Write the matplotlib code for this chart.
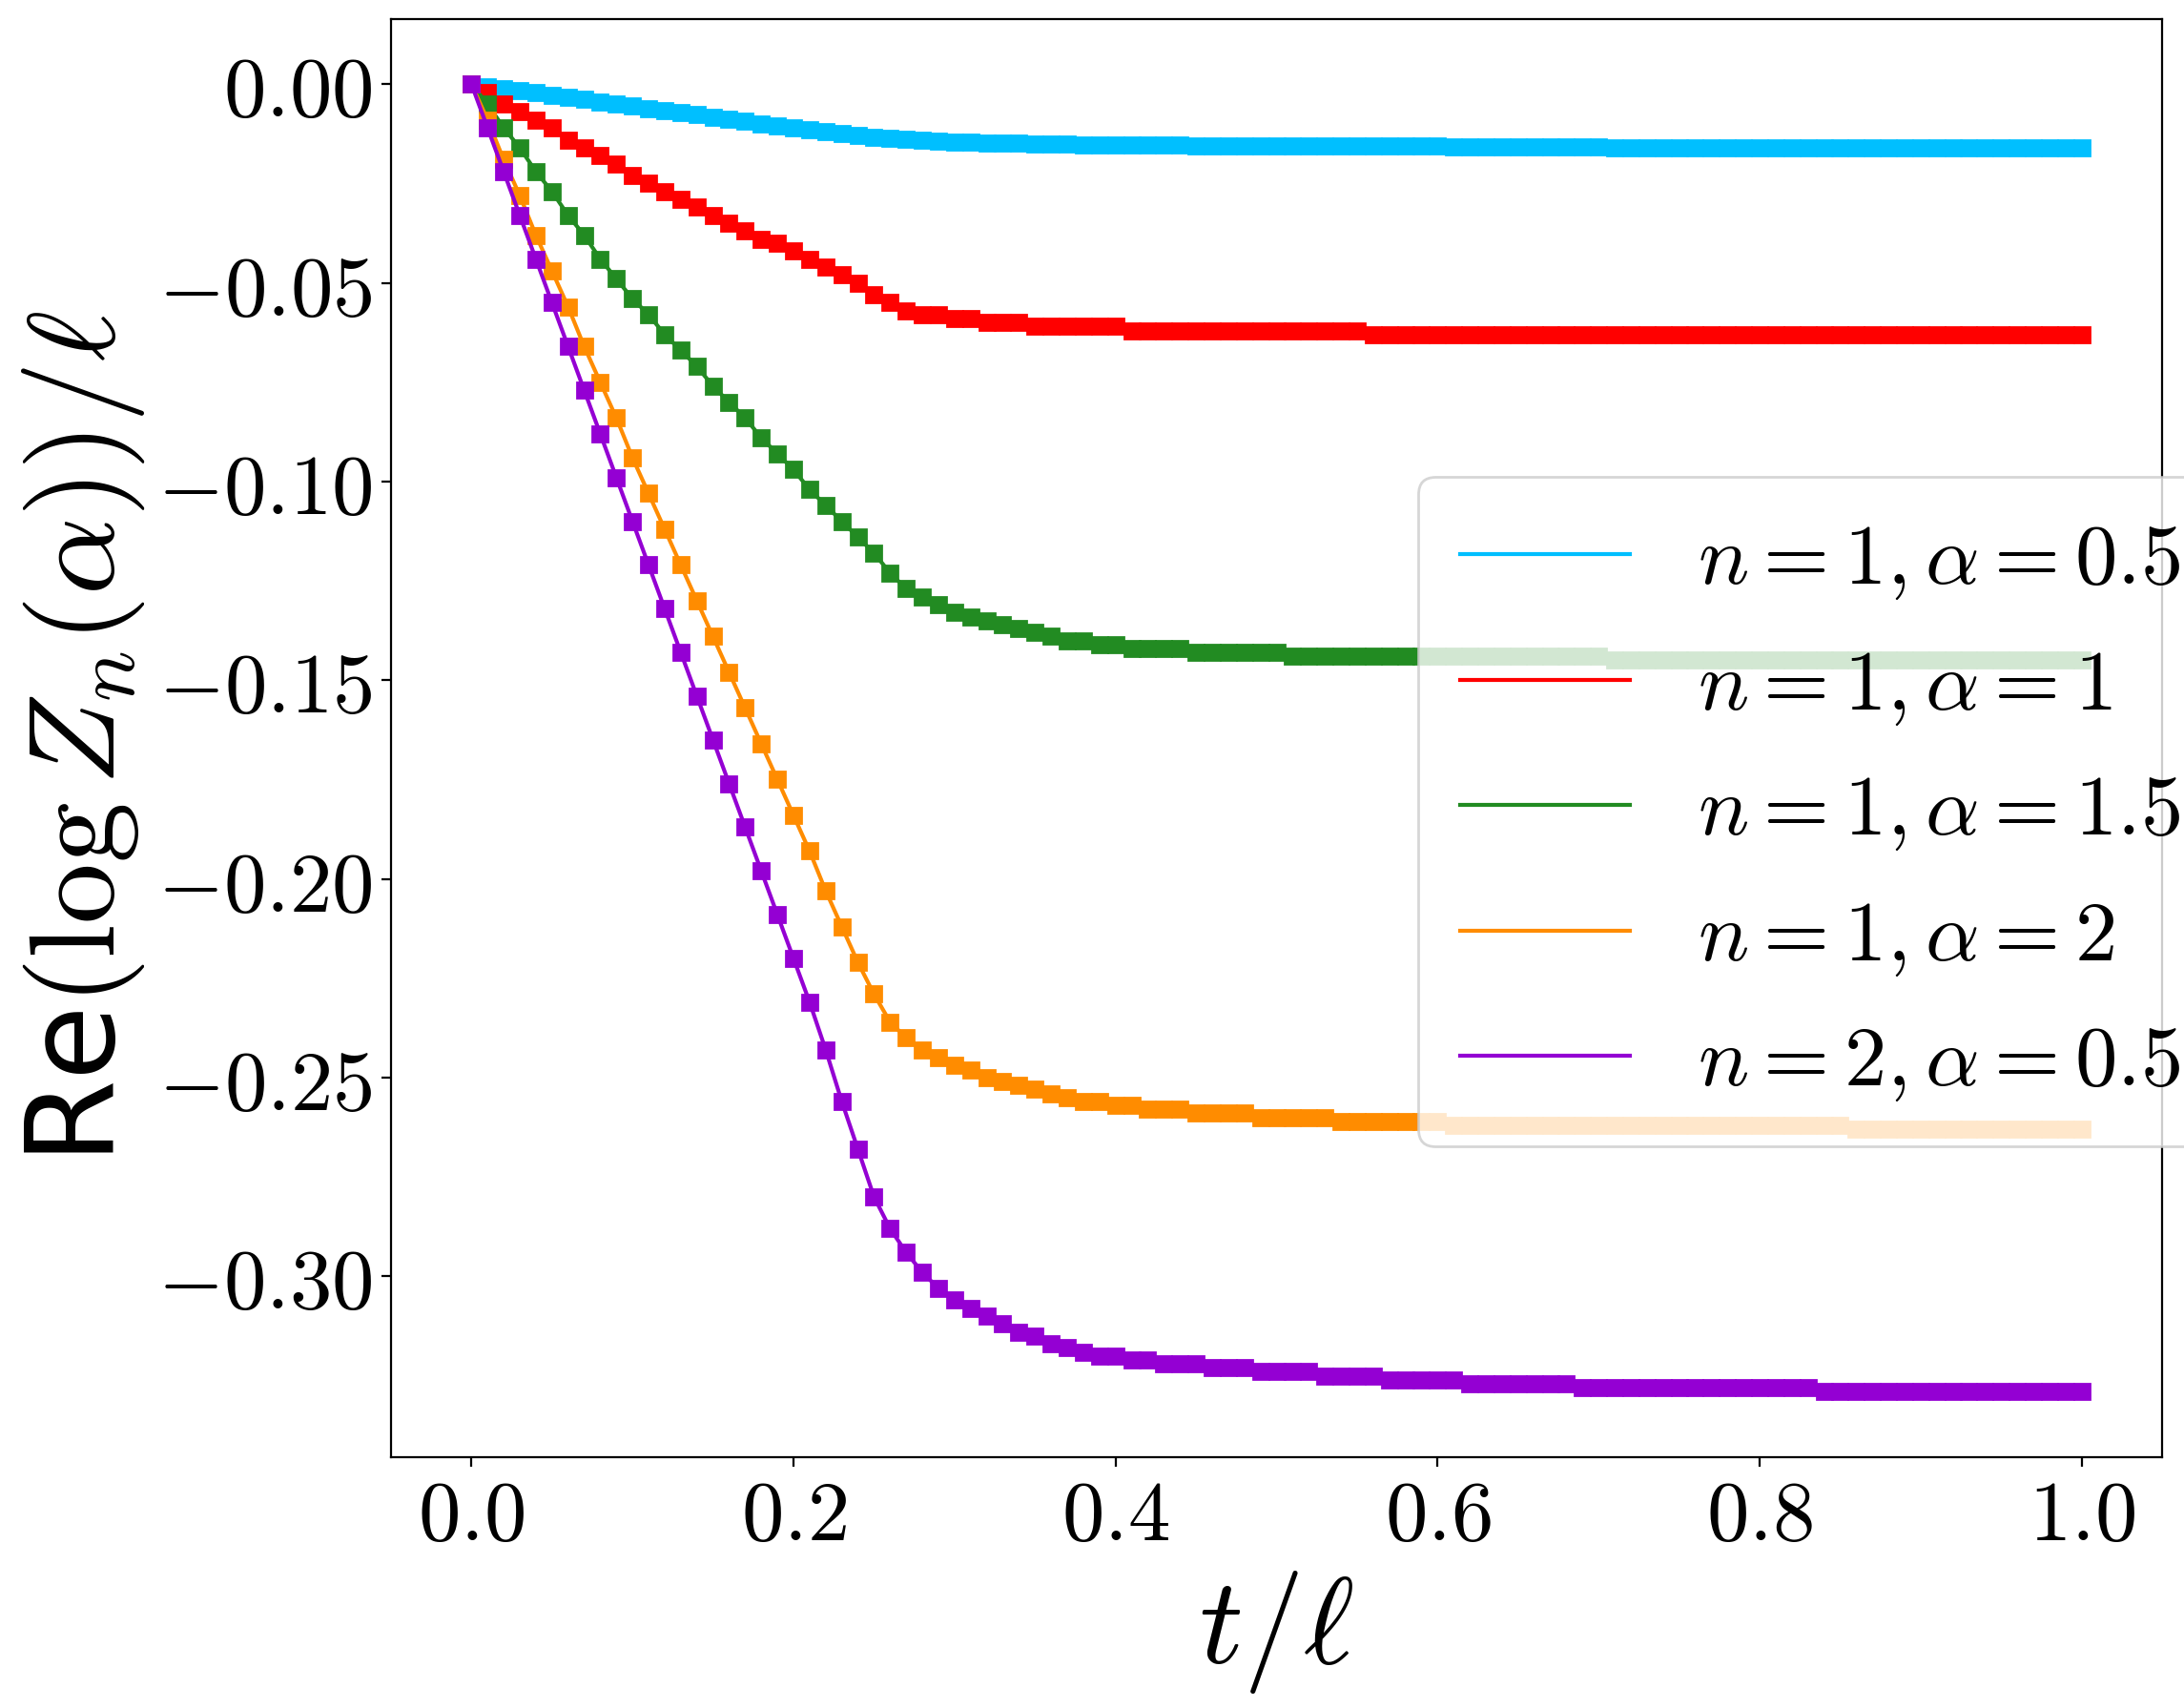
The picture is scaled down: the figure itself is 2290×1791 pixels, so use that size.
import matplotlib
matplotlib.use("Agg")
import matplotlib.pyplot as plt
import numpy as np

plt.rcParams['mathtext.fontset'] = 'cm'

t = [round(0.01 * i, 2) for i in range(101)]

cyan = ([0, -0.0006, -0.0011, -0.0017, -0.0022, -0.0028, -0.0033, -0.0039, -0.0044, -0.0050,
         -0.0055, -0.0061, -0.0066, -0.0072, -0.0077, -0.0083, -0.0088, -0.0094, -0.0099, -0.0105,
         -0.0110, -0.0115, -0.0120, -0.0125, -0.0129, -0.0133, -0.0136, -0.0139, -0.0141, -0.0143,
         -0.0145, -0.0146, -0.0147, -0.0148, -0.0149, -0.0150, -0.0151, -0.0151, -0.0152, -0.0152,
         -0.0153, -0.0153, -0.0154, -0.0154, -0.0154, -0.0155, -0.0155, -0.0155, -0.0155, -0.0156,
         -0.0156] + [-0.0156] * 10 + [-0.0157] * 10 + [-0.0160] * 30)
red = ([0, -0.002, -0.005, -0.007, -0.009, -0.011, -0.014, -0.016, -0.018, -0.020,
        -0.023, -0.025, -0.027, -0.029, -0.031, -0.033, -0.035, -0.037, -0.039, -0.040,
        -0.042, -0.044, -0.046, -0.048, -0.050, -0.053, -0.055, -0.057, -0.058, -0.058,
        -0.059, -0.059, -0.060, -0.060, -0.060, -0.061, -0.061, -0.061, -0.061, -0.061,
        -0.061] + [-0.062] * 15 + [-0.063] * 45)
green = ([0, -0.005, -0.011, -0.016, -0.022, -0.027, -0.033, -0.038, -0.044, -0.049,
          -0.054, -0.058, -0.063, -0.067, -0.071, -0.076, -0.080, -0.084, -0.089, -0.093,
          -0.097, -0.102, -0.106, -0.110, -0.114, -0.118, -0.123, -0.127, -0.129, -0.131,
          -0.133, -0.134, -0.135, -0.136, -0.137, -0.138, -0.139, -0.140, -0.140, -0.141,
          -0.141, -0.142, -0.142, -0.142, -0.142, -0.143, -0.143, -0.143, -0.143, -0.143,
          -0.143] + [-0.144] * 20 + [-0.145] * 30)
orange = ([0, -0.009, -0.019, -0.028, -0.038, -0.047, -0.056, -0.066, -0.075, -0.084,
           -0.094, -0.103, -0.112, -0.121, -0.130, -0.139, -0.148, -0.157, -0.166, -0.175,
           -0.184, -0.193, -0.203, -0.212, -0.221, -0.229, -0.236, -0.240, -0.243, -0.245,
           -0.247, -0.248, -0.250, -0.251, -0.252, -0.253, -0.254, -0.255, -0.256, -0.256,
           -0.257, -0.257, -0.258, -0.258, -0.258, -0.259, -0.259, -0.259, -0.259, -0.260,
           -0.260, -0.260, -0.260, -0.260, -0.261, -0.261, -0.261, -0.261, -0.261, -0.261,
           -0.261] + [-0.262] * 25 + [-0.263] * 15)
purple = ([0, -0.011, -0.022, -0.033, -0.044, -0.055, -0.066, -0.077, -0.088, -0.099,
           -0.110, -0.121, -0.132, -0.143, -0.154, -0.165, -0.176, -0.187, -0.198, -0.209,
           -0.220, -0.231, -0.243, -0.256, -0.268, -0.280, -0.288, -0.294, -0.299, -0.303,
           -0.306, -0.308, -0.310, -0.312, -0.314, -0.315, -0.317, -0.318, -0.319, -0.320,
           -0.320, -0.321, -0.321, -0.322, -0.322, -0.322, -0.323, -0.323, -0.323, -0.324,
           -0.324, -0.324, -0.324, -0.325, -0.325, -0.325, -0.325, -0.326, -0.326, -0.326,
           -0.326, -0.326, -0.327, -0.327, -0.327, -0.327, -0.327, -0.327, -0.327, -0.328,
           -0.328] + [-0.328] * 13 + [-0.329] * 17)

series = [cyan, red, green, orange, purple]
labels = [r'$n=1,\alpha=0.5$', r'$n=1,\alpha=1$', r'$n=1,\alpha=1.5$',
          r'$n=1,\alpha=2$', r'$n=2,\alpha=0.5$']
colors = ['deepskyblue', 'red', 'forestgreen', 'darkorange', 'darkviolet']

fig = plt.figure(figsize=(11.45, 8.955), dpi=200)
ax = fig.add_axes([0.179, 0.147, 0.811, 0.842])
for y, lab, c in zip(series, labels, colors):
    ax.plot(t, y, '-', color=c, lw=1.5, label=lab)
    ax.plot(t, y, 's', color=c, ms=6, ls='none')

ax.set_xticks([0, 0.2, 0.4, 0.6, 0.8, 1.0])
ax.set_xticklabels([r'$%.1f$' % v for v in [0, 0.2, 0.4, 0.6, 0.8, 1.0]])
yt = [0, -0.05, -0.10, -0.15, -0.20, -0.25, -0.30]
ax.set_yticks(yt)
ax.set_yticklabels([r'$%.2f$' % v if v != 0 else r'$0.00$' for v in yt])
ax.tick_params(labelsize=32)
ax.set_xlabel(r'$t/\ell$', fontsize=46)
ax.set_ylabel(r'Re$(\log Z_n(\alpha))/\ell$', fontsize=46)
ax.legend(fontsize=32, loc='upper left', bbox_to_anchor=(0.556, 0.711),
          handlelength=2.0, handletextpad=0.8, borderpad=0.5)
fig.savefig('out.png', dpi=200)
